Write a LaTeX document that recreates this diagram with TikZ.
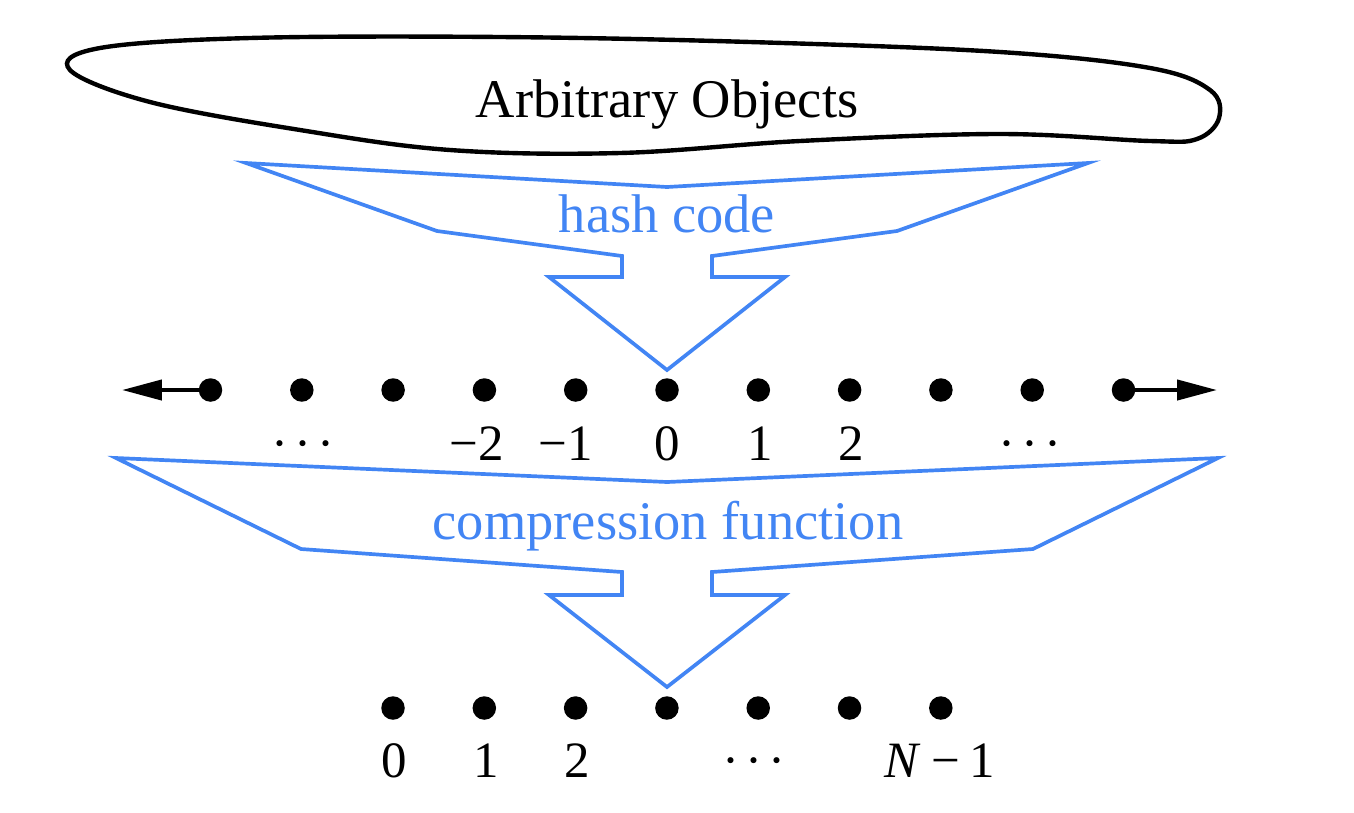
\documentclass[tikz,border=0pt]{standalone}
\usepackage{fontspec}
\setmainfont{Liberation Serif}
\usetikzlibrary{arrows.meta}
\definecolor{fblue}{RGB}{66,133,244}
\begin{document}
\begin{tikzpicture}[x=0.02cm,y=-0.02cm,
  dot/.style={circle,fill=black,inner sep=0pt,minimum size=0.47cm},
  lbl/.style={font=\fontsize{29}{34}\selectfont,anchor=base,inner sep=0pt},
  big/.style={font=\fontsize{31}{36}\selectfont,anchor=base,inner sep=0pt},
  funnel/.style={draw=fblue,line width=2.1pt,line join=miter},
  ptr/.style={line width=0.085cm,-{Triangle[length=0.8cm,width=0.4cm]}}]
\useasboundingbox (0,0) rectangle (1354,812);
% blob
\draw[line width=2.5pt] plot[smooth cycle, tension=0.6] coordinates {
  (70,70) (100,48) (250,38) (500,37) (750,42) (1000,52) (1150,68)
  (1210,90) (1219,118) (1197,139) (1150,141) (1000,134) (800,141)
  (620,153) (450,150) (300,130) (150,102)};
\node[big] (obj) at (667,117) {Arbitrary Objects};
% hash code funnel
\draw[funnel] (246,163) -- (667,187) -- (1088,163) -- (897,231) -- (712,256)
  -- (712,277) -- (785,277) -- (667,370) -- (549,277) -- (622,277)
  -- (622,256) -- (437,231) -- cycle;
\node[big,text=fblue] (hash) at (667,232) {hash code};
% integer line
\foreach \i [count=\k] in {-5,...,5}
  \node[dot] (a\k) at (667+91.3*\i,390) {};
\coordinate (la) at (122,390);
\coordinate (ra) at (1217,390);
\draw[ptr] (a1.center) -- (la);
\draw[ptr] (a11.center) -- (ra);
\node[lbl] (l1) at (303,460) {·\hspace{0.12em}·\hspace{0.12em}·};
\node[lbl] (l2) at (477,460) {−2};
\node[lbl] (l3) at (566,460) {−1};
\node[lbl] (l4) at (667,460) {0};
\node[lbl] (l5) at (760,460) {1};
\node[lbl] (l6) at (851,460) {2};
\node[lbl] (l7) at (1030,460) {·\hspace{0.12em}·\hspace{0.12em}·};
% compression funnel
\draw[funnel] (116,458) -- (667,482) -- (1218,458) -- (1033,549) -- (712,572)
  -- (712,595) -- (785,595) -- (667,687) -- (549,595) -- (622,595)
  -- (622,572) -- (301,549) -- cycle;
\node[big,text=fblue] (comp) at (668,539) {compression function};
% bucket array
\foreach \i [count=\k] in {0,...,6}
  \node[dot] (b\k) at (393+91.3*\i,708) {};
\node[lbl] (m1) at (394,777) {0};
\node[lbl] (m2) at (486,777) {1};
\node[lbl] (m3) at (577,777) {2};
\node[lbl] (m4) at (754,777) {·\hspace{0.12em}·\hspace{0.12em}·};
\node[lbl] (m5) at (940,777) {\textit{N}\hspace{0.2em}−\hspace{0.2em}1};
\end{tikzpicture}
\end{document}
